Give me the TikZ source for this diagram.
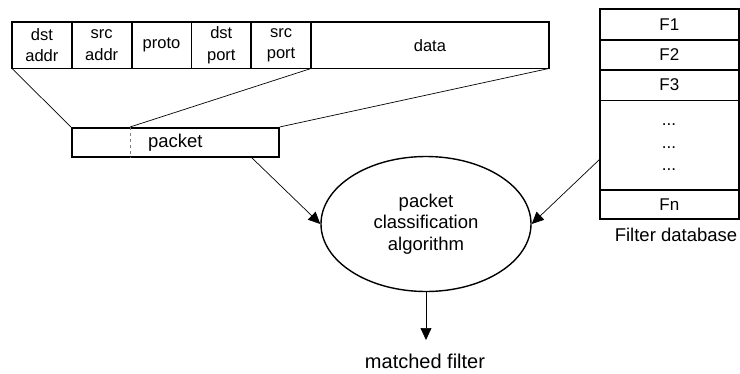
\documentclass[tikz,border=0pt]{standalone}
\usepackage{fontspec}
\setmainfont{Liberation Sans}
\usetikzlibrary{arrows.meta,shapes.geometric}
\begin{document}
\begin{tikzpicture}[x=1pt,y=-1pt,
  cell/.style={draw,line width=0.8pt,inner sep=0pt,align=center,font=\fontsize{16.5}{21.5}\selectfont,anchor=north west},
  frow/.style={cell,font=\fontsize{17}{21}\selectfont},
  big/.style={font=\fontsize{18.5}{21.5}\selectfont,align=center},
  small/.style={font=\fontsize{17}{19}\selectfont},
  thinline/.style={line width=0.7pt},
  frame/.style={line width=1.6pt},
  arr/.style={line width=0.7pt,-{Triangle[length=12pt,width=11pt]}}]
\useasboundingbox (0,0) rectangle (740,373);
% header
\node[cell,minimum width=59pt,minimum height=46pt] (c1) at (12,21.7) {dst\\addr};
\node[cell,minimum width=59pt,minimum height=46pt] (c2) at (c1.north east) {src\\addr};
\node[cell,minimum width=59pt,minimum height=46pt] (c3) at (c2.north east) {proto};
\node[cell,minimum width=59pt,minimum height=46pt] (c4) at (c3.north east) {dst\\port};
\node[cell,minimum width=59pt,minimum height=46pt] (c5) at (c4.north east) {src\\port};
\node[cell,minimum width=237pt,minimum height=46pt] (c6) at (c5.north east) {data};
\draw[frame] (c1.north west) rectangle (c6.south east);
% packet
\node[draw,frame,minimum width=207pt,minimum height=29pt,anchor=north west,inner sep=0pt,big] (pk) at (71,127) {packet};
\coordinate (pd) at (130,127);
\draw[dashed,gray,line width=0.6pt] (pd) -- (pd |- pk.south);
\draw[thinline] (c1.south west) -- (pk.north west);
\draw[thinline] (c5.south east) -- (pd);
\draw[thinline] (c6.south east) -- (pk.north east);
% filter database
\node[frow,minimum width=138pt,minimum height=30pt] (f1) at (600,9) {F1};
\node[frow,minimum width=138pt,minimum height=29pt] (f2) at (f1.south west) {F2};
\node[frow,minimum width=138pt,minimum height=30pt] (f3) at (f2.south west) {F3};
\node[frow,minimum width=138pt,minimum height=89pt] (fd) at (f3.south west) {};
\node[frow,minimum width=138pt,minimum height=28pt] (fn) at (fd.south west) {Fn};
\draw[frame] (f1.north west) rectangle (fn.south east);
\node[small,anchor=base,inner sep=0pt] (d1) at (669,125) {...};
\node[small,anchor=base,inner sep=0pt] (d2) at (669,148) {...};
\node[small,anchor=base,inner sep=0pt] (d3) at (669,170) {...};
\node[big,anchor=base,inner sep=0pt] (fdb) at (676,241.5) {Filter database};
% algorithm
\node[draw,ellipse,line width=1.4pt,minimum width=210pt,minimum height=135pt,inner sep=0pt,big] (alg) at (426,224) {packet\\classification\\algorithm};
\coordinate (pa) at (250,156);
\coordinate (fa) at (600,159);
\draw[arr] (pa) -- (alg.west);
\draw[arr] (fa) -- (alg.east);
\node[font=\fontsize{20}{24}\selectfont,anchor=base,inner sep=0pt] (mf) at (425,368) {matched filter};
\coordinate (mt) at (426,340);
\draw[arr] (alg.south) -- (mt);
\end{tikzpicture}
\end{document}
